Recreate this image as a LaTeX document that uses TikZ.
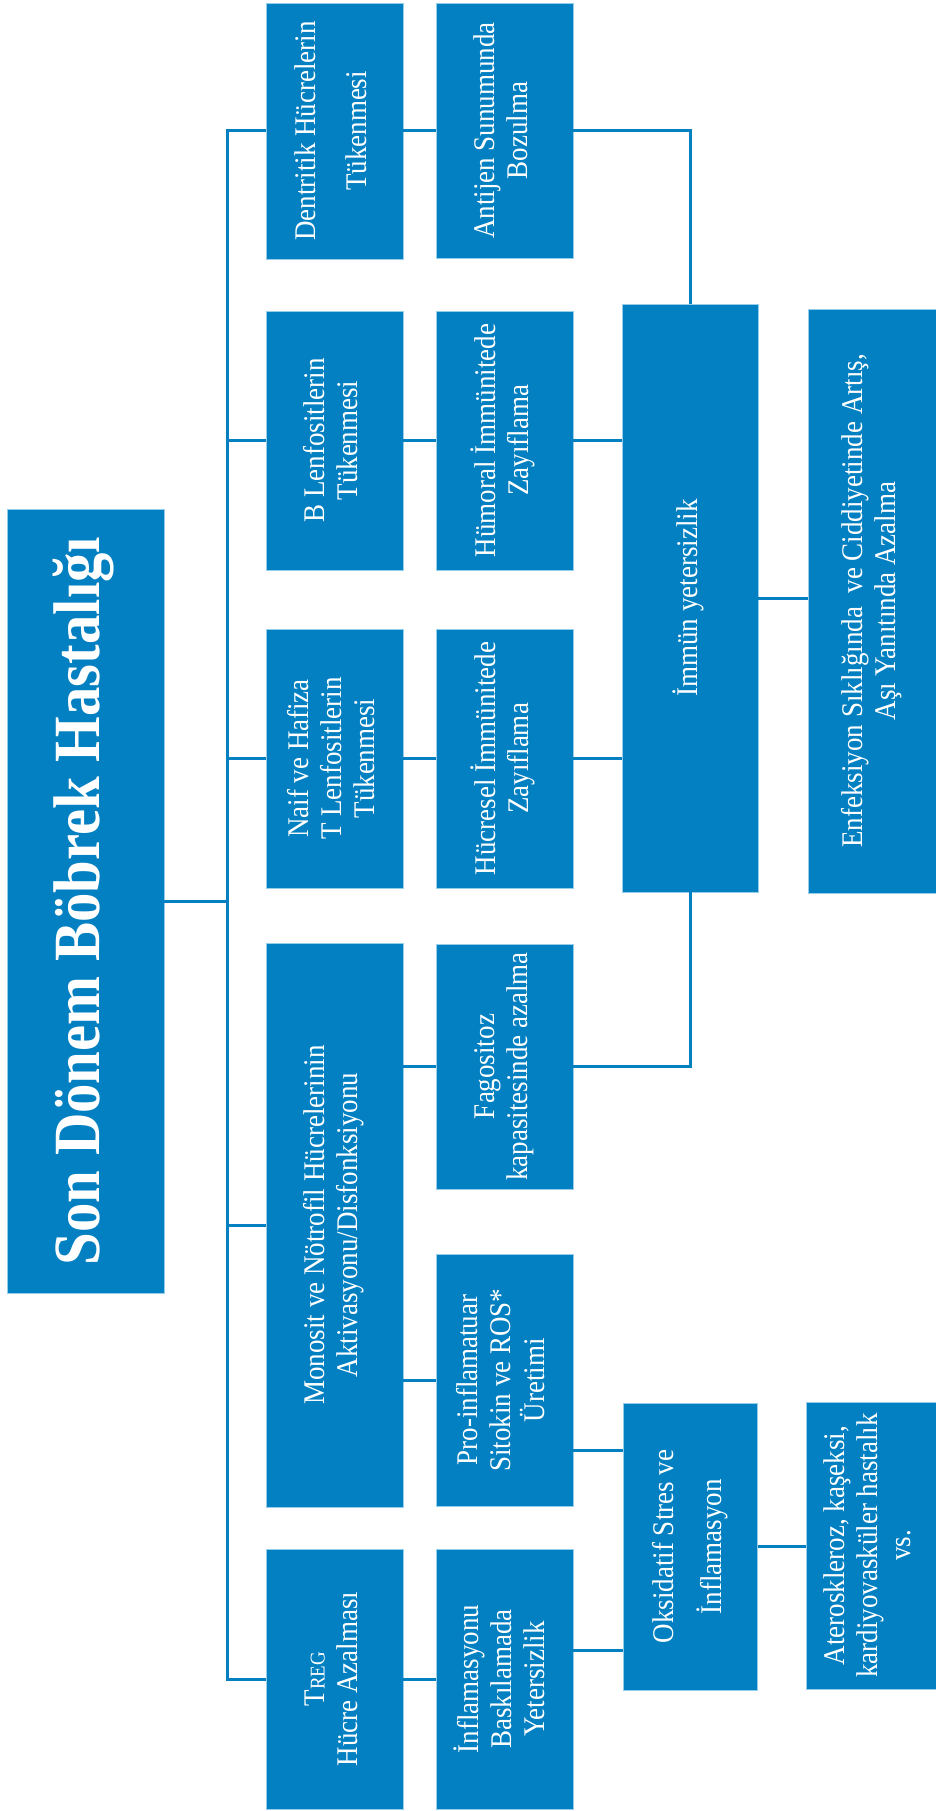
\documentclass[tikz,border=0pt]{standalone}
\usepackage{fontspec}
\setmainfont{Liberation Serif}
\usepackage{graphicx}

\definecolor{boxblue}{RGB}{2,128,193}
\definecolor{edgeblue}{RGB}{150,205,235}

% rotated multi-line label, reading bottom to top; optional arg = squeeze along the text
\newcommand{\vtext}[2][0.9]{\rotatebox{90}{\scalebox{#1}[1]{\begin{tabular}{@{}c@{}}#2\end{tabular}}}}

\tikzset{
  box/.style={fill=boxblue, draw=edgeblue, line width=0.8pt, text=white, inner sep=0pt,
    font=\fontsize{30}{33}\selectfont},
  link/.style={draw=boxblue, line width=3pt},
}

\begin{document}
\begin{tikzpicture}[x=1pt, y=-1pt]
  \useasboundingbox (0,0) rectangle (936,1811);

  % root
  \node[box, minimum width=157pt, minimum height=784pt, font=\bfseries\fontsize{66}{72}\selectfont]
    (main) at (85.5,901) {\vtext[0.89]{Son Dönem Böbrek Hastalığı}};

  % first column: cell losses
  \node[box, minimum width=137pt, minimum height=256pt] (dent) at (334.5,131)
    {\vtext{Dentritik Hücrelerin\\[18pt]Tükenmesi}};
  \node[box, minimum width=137pt, minimum height=259pt] (blenf) at (334.5,440.5)
    {\vtext{B Lenfositlerin\\Tükenmesi}};
  \node[box, minimum width=137pt, minimum height=259pt] (naif) at (334.5,758.5)
    {\vtext{Naif ve Hafiza\\T Lenfositlerin\\Tükenmesi}};
  \node[box, minimum width=137pt, minimum height=564pt] (mono) at (334.5,1225)
    {\vtext{Monosit ve Nötrofil Hücrelerinin\\Aktivasyonu/Disfonksiyonu}};
  \node[box, minimum width=137pt, minimum height=260pt] (treg) at (334.5,1679)
    {\vtext{T{\fontsize{21}{24}\selectfont REG}\\Hücre Azalması}};

  % second column: effects
  \node[box, minimum width=137pt, minimum height=255pt] (anti) at (504.5,130.5)
    {\vtext{Antijen Sunumunda\\Bozulma}};
  \node[box, minimum width=137pt, minimum height=259pt] (humo) at (504.5,440.5)
    {\vtext{Hümoral İmmünitede\\Zayıflama}};
  \node[box, minimum width=137pt, minimum height=259pt] (hucr) at (504.5,758.5)
    {\vtext{Hücresel İmmünitede\\Zayıflama}};
  \node[box, minimum width=137pt, minimum height=245pt] (fago) at (504.5,1066.5)
    {\vtext{Fagositoz\\kapasitesinde azalma}};
  \node[box, minimum width=137pt, minimum height=252pt] (pro) at (504.5,1380)
    {\vtext{Pro-inflamatuar\\Sitokin ve ROS*\\Üretimi}};
  \node[box, minimum width=137pt, minimum height=260pt] (infl) at (504.5,1679)
    {\vtext{İnflamasyonu\\Baskılamada\\Yetersizlik}};

  % third column
  \node[box, minimum width=136pt, minimum height=588pt] (immun) at (690,598)
    {\vtext{İmmün yetersizlik}};
  \node[box, minimum width=134pt, minimum height=287pt] (oks) at (690.8,1546.5)
    {\vtext{Oksidatif Stres ve\\[14pt]İnflamasyon}};

  % fourth column: outcomes
  \node[box, minimum width=128pt, minimum height=584pt] (enf) at (872,601)
    {\vtext{Enfeksiyon Sıklığında\ \ ve Ciddiyetinde Artış,\\Aşı Yanıtında Azalma}};
  \node[box, minimum width=130pt, minimum height=287pt] (ater) at (871,1545.5)
    {\vtext{Ateroskleroz, kaşeksi,\\kardiyovasküler hastalık\\vs.}};

  % trunk
  \coordinate (trunk) at ([xshift=63pt]main.east);
  \draw[link] (main.east) -- (trunk);
  \draw[link] (dent.west) -| (trunk);
  \draw[link] (treg.west) -| (trunk);
  \foreach \n in {blenf,naif,mono}
    \draw[link] (trunk |- \n.west) -- (\n.west);

  % first to second column
  \draw[link] (dent.east) -- (dent.east -| anti.west);
  \draw[link] (blenf.east) -- (humo.west);
  \draw[link] (naif.east) -- (hucr.west);
  \draw[link] (mono.east |- fago.west) -- (fago.west);
  \draw[link] (mono.east |- pro.west) -- (pro.west);
  \draw[link] (treg.east) -- (infl.west);

  % second to third column
  \coordinate (proout) at ([yshift=-70pt]pro.east);
  \coordinate (inflout) at ([yshift=29pt]infl.east);
  \draw[link] (anti.east) -| (immun.north);
  \draw[link] (humo.east) -- (humo.east -| immun.west);
  \draw[link] (hucr.east) -- (hucr.east -| immun.west);
  \draw[link] (fago.east) -| (immun.south);
  \draw[link] (proout) -- (proout -| oks.west);
  \draw[link] (inflout) -- (inflout -| oks.west);

  % third to fourth column
  \draw[link] (immun.east) -- (immun.east -| enf.west);
  \draw[link] (oks.east) -- (oks.east -| ater.west);
\end{tikzpicture}
\end{document}
